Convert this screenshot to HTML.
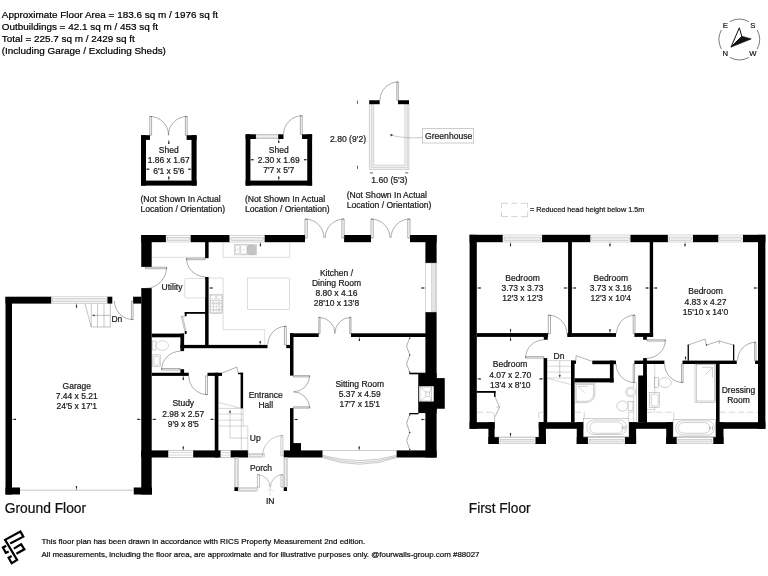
<!DOCTYPE html>
<html><head><meta charset="utf-8"><title>Floor plan</title>
<style>
html,body{margin:0;padding:0;background:#fff;}
body{width:768px;height:576px;overflow:hidden;font-family:"Liberation Sans",Arial,sans-serif;}
svg{display:block;will-change:transform;font-family:"Liberation Sans",Arial,sans-serif;}
</style></head><body>
<svg width="768" height="576" viewBox="0 0 768 576">
<rect width="768" height="576" fill="#fff"/>
<text x="1.80" y="17.80" font-size="9.92" text-anchor="start" fill="#000" stroke="#000" stroke-width="0.22">Approximate Floor Area = 183.6 sq m / 1976 sq ft</text>
<text x="1.80" y="29.70" font-size="9.92" text-anchor="start" fill="#000" stroke="#000" stroke-width="0.22">Outbuildings = 42.1 sq m / 453 sq ft</text>
<text x="1.80" y="41.60" font-size="9.92" text-anchor="start" fill="#000" stroke="#000" stroke-width="0.22">Total = 225.7 sq m / 2429 sq ft</text>
<text x="1.80" y="53.60" font-size="9.92" text-anchor="start" fill="#000" stroke="#000" stroke-width="0.22">(Including Garage / Excluding Sheds)</text>
<path d="M729.77 21.58 A20.3 20.3 0 0 1 748.83 21.58" stroke="#222" stroke-width="0.6" fill="none"/>
<path d="M757.22 29.97 A20.3 20.3 0 0 1 757.22 49.03" stroke="#222" stroke-width="0.6" fill="none"/>
<path d="M748.83 57.42 A20.3 20.3 0 0 1 729.77 57.42" stroke="#222" stroke-width="0.6" fill="none"/>
<path d="M721.38 49.03 A20.3 20.3 0 0 1 721.38 29.97" stroke="#222" stroke-width="0.6" fill="none"/>
<text x="725.40" y="28.30" font-size="7.7" text-anchor="middle" fill="#1a1a1a" stroke="#1a1a1a" stroke-width="0.22">E</text>
<text x="752.90" y="28.30" font-size="7.7" text-anchor="middle" fill="#1a1a1a" stroke="#1a1a1a" stroke-width="0.22">S</text>
<text x="725.40" y="55.80" font-size="7.7" text-anchor="middle" fill="#1a1a1a" stroke="#1a1a1a" stroke-width="0.22">N</text>
<text x="752.90" y="55.80" font-size="7.7" text-anchor="middle" fill="#1a1a1a" stroke="#1a1a1a" stroke-width="0.22">W</text>
<path d="M731.00 47.10 L739.30 27.80 L741.80 36.30 Z" stroke="#111" stroke-width="1.0" fill="#fff"/>
<path d="M731.00 47.10 L741.80 36.30 L751.20 38.90 Z" stroke="#111" stroke-width="0.7" fill="#111"/>
<rect x="141.00" y="135.20" width="5.00" height="50.40" fill="#000"/>
<rect x="191.50" y="135.20" width="5.10" height="50.40" fill="#000"/>
<rect x="141.00" y="180.60" width="55.60" height="5.00" fill="#000"/>
<rect x="141.00" y="135.20" width="9.00" height="4.70" fill="#000"/>
<rect x="186.60" y="135.20" width="10.00" height="4.70" fill="#000"/>
<path d="M149.80 135.20 L149.80 116.45 L151.60 116.45 L151.60 135.20 Z" stroke="#333" stroke-width="0.4" fill="#fff"/>
<path d="M149.80 116.45 A18.75 18.75 0 0 1 168.55 135.20" stroke="#333" stroke-width="0.4" fill="none"/>
<path d="M187.20 135.20 L187.20 116.45 L185.40 116.45 L185.40 135.20 Z" stroke="#333" stroke-width="0.4" fill="#fff"/>
<path d="M187.20 116.45 A18.75 18.75 0 0 0 168.45 135.20" stroke="#333" stroke-width="0.4" fill="none"/>
<text x="168.75" y="152.80" font-size="8.5" text-anchor="middle" fill="#1a1a1a" stroke="#1a1a1a" stroke-width="0.22">Shed</text>
<text x="168.75" y="163.40" font-size="8.5" text-anchor="middle" fill="#1a1a1a" stroke="#1a1a1a" stroke-width="0.22">1.86 x 1.67</text>
<text x="168.75" y="173.60" font-size="8.5" text-anchor="middle" fill="#1a1a1a" stroke="#1a1a1a" stroke-width="0.22">6'1 x 5'6</text>
<text x="140.50" y="202.20" font-size="8.6" text-anchor="start" fill="#1a1a1a" stroke="#1a1a1a" stroke-width="0.22">(Not Shown In Actual</text>
<text x="140.50" y="212.30" font-size="8.6" text-anchor="start" fill="#1a1a1a" stroke="#1a1a1a" stroke-width="0.22">Location / Orientation)</text>
<line x1="168.75" y1="139.90" x2="168.75" y2="143.90" stroke="#222" stroke-width="0.45"/>
<line x1="168.75" y1="141.60" x2="168.75" y2="143.90" stroke="#222" stroke-width="1.15"/>
<line x1="168.75" y1="180.60" x2="168.75" y2="176.60" stroke="#222" stroke-width="0.45"/>
<line x1="168.75" y1="178.90" x2="168.75" y2="176.60" stroke="#222" stroke-width="1.15"/>
<line x1="146.00" y1="169.20" x2="149.20" y2="169.20" stroke="#222" stroke-width="0.45"/>
<line x1="146.90" y1="169.20" x2="149.20" y2="169.20" stroke="#222" stroke-width="1.15"/>
<line x1="191.50" y1="169.20" x2="188.30" y2="169.20" stroke="#222" stroke-width="0.45"/>
<line x1="190.60" y1="169.20" x2="188.30" y2="169.20" stroke="#222" stroke-width="1.15"/>
<rect x="245.60" y="134.30" width="4.80" height="51.30" fill="#000"/>
<rect x="307.25" y="134.30" width="4.85" height="51.30" fill="#000"/>
<rect x="245.60" y="180.60" width="66.50" height="5.00" fill="#000"/>
<rect x="245.60" y="134.30" width="10.40" height="4.70" fill="#000"/>
<rect x="256.00" y="134.50" width="22.25" height="4.30" stroke="#777" stroke-width="0.4" fill="#fff" rx="0"/>
<line x1="256.80" y1="135.76" x2="277.45" y2="135.76" stroke="#777" stroke-width="0.3"/>
<line x1="256.80" y1="137.40" x2="277.45" y2="137.40" stroke="#777" stroke-width="0.3"/>
<rect x="278.25" y="134.30" width="5.25" height="4.70" fill="#000"/>
<rect x="302.00" y="134.30" width="10.10" height="4.70" fill="#000"/>
<path d="M302.20 134.30 L302.20 115.70 L300.40 115.70 L300.40 134.30 Z" stroke="#333" stroke-width="0.4" fill="#fff"/>
<path d="M302.20 115.70 A18.60 18.60 0 0 0 283.60 134.30" stroke="#333" stroke-width="0.4" fill="none"/>
<text x="278.75" y="152.60" font-size="8.5" text-anchor="middle" fill="#1a1a1a" stroke="#1a1a1a" stroke-width="0.22">Shed</text>
<text x="278.75" y="163.10" font-size="8.5" text-anchor="middle" fill="#1a1a1a" stroke="#1a1a1a" stroke-width="0.22">2.30 x 1.69</text>
<text x="278.75" y="173.30" font-size="8.5" text-anchor="middle" fill="#1a1a1a" stroke="#1a1a1a" stroke-width="0.22">7'7 x 5'7</text>
<text x="245.00" y="202.20" font-size="8.6" text-anchor="start" fill="#1a1a1a" stroke="#1a1a1a" stroke-width="0.22">(Not Shown In Actual</text>
<text x="245.00" y="212.30" font-size="8.6" text-anchor="start" fill="#1a1a1a" stroke="#1a1a1a" stroke-width="0.22">Location / Orientation)</text>
<line x1="278.75" y1="139.00" x2="278.75" y2="143.00" stroke="#222" stroke-width="0.45"/>
<line x1="278.75" y1="140.70" x2="278.75" y2="143.00" stroke="#222" stroke-width="1.15"/>
<line x1="278.75" y1="180.60" x2="278.75" y2="176.60" stroke="#222" stroke-width="0.45"/>
<line x1="278.75" y1="178.90" x2="278.75" y2="176.60" stroke="#222" stroke-width="1.15"/>
<line x1="250.40" y1="159.70" x2="253.60" y2="159.70" stroke="#222" stroke-width="0.45"/>
<line x1="251.30" y1="159.70" x2="253.60" y2="159.70" stroke="#222" stroke-width="1.15"/>
<line x1="307.25" y1="159.70" x2="304.05" y2="159.70" stroke="#222" stroke-width="0.45"/>
<line x1="306.35" y1="159.70" x2="304.05" y2="159.70" stroke="#222" stroke-width="1.15"/>
<path d="M369.4 104 V169.5 H409 V104 H404.9 V165.2 H373.7 V104 Z" fill="#f2f2f2" stroke="none"/>
<path d="M369.40 104.00 L369.40 169.50 L409.00 169.50 L409.00 104.00" stroke="#999" stroke-width="0.4" fill="none"/>
<path d="M371.70 104.00 L371.70 167.60 L407.30 167.60 L407.30 104.00" stroke="#aaa" stroke-width="0.4" fill="none"/>
<path d="M373.70 104.00 L373.70 165.20 L404.90 165.20 L404.90 104.00" stroke="#999" stroke-width="0.4" fill="none"/>
<rect x="369.20" y="100.25" width="10.50" height="3.95" fill="#000"/>
<rect x="398.00" y="100.25" width="11.00" height="3.95" fill="#000"/>
<path d="M398.30 100.25 L398.30 81.95 L396.80 81.95 L396.80 100.25 Z" stroke="#333" stroke-width="0.4" fill="#fff"/>
<path d="M398.30 81.95 A18.30 18.30 0 0 0 380.00 100.25" stroke="#333" stroke-width="0.4" fill="none"/>
<text x="330.00" y="142.00" font-size="8.6" text-anchor="start" fill="#1a1a1a" stroke="#1a1a1a" stroke-width="0.22">2.80 (9'2)</text>
<text x="371.30" y="182.60" font-size="8.6" text-anchor="start" fill="#1a1a1a" stroke="#1a1a1a" stroke-width="0.22">1.60 (5'3)</text>
<text x="346.75" y="198.00" font-size="8.6" text-anchor="start" fill="#1a1a1a" stroke="#1a1a1a" stroke-width="0.22">(Not Shown In Actual</text>
<text x="346.75" y="208.10" font-size="8.6" text-anchor="start" fill="#1a1a1a" stroke="#1a1a1a" stroke-width="0.22">Location / Orientation)</text>
<rect x="422.50" y="128.75" width="51.25" height="14.25" stroke="#999" stroke-width="0.5" fill="#fff" rx="0"/>
<text x="425.00" y="138.90" font-size="8.6" text-anchor="start" fill="#1a1a1a" stroke="#1a1a1a" stroke-width="0.22">Greenhouse</text>
<path d="M422.5 137.5 Q405 139 390.5 135" stroke="#777" stroke-width="0.4" fill="none"/>
<path d="M390.00 134.80 L392.30 134.40 L392.00 136.20 Z" stroke="#222" stroke-width="0.3" fill="#222"/>
<line x1="357.50" y1="100.70" x2="357.50" y2="103.90" stroke="#222" stroke-width="0.7"/>
<line x1="357.50" y1="165.70" x2="357.50" y2="168.90" stroke="#222" stroke-width="0.7"/>
<line x1="369.90" y1="172.90" x2="373.10" y2="172.90" stroke="#222" stroke-width="0.7"/>
<line x1="405.10" y1="172.90" x2="408.30" y2="172.90" stroke="#222" stroke-width="0.7"/>
<path d="M501.5 203.3 h6.6 m3.2 0 h6.3 m3.4 0 h6.6 M501.5 216.6 h6.6 m3.2 0 h6.3 m3.4 0 h6.6 M501.5 203.3 v4.5 m0 3.5 v5.3 M527.6 203.3 v4.5 m0 3.5 v5.3" fill="none" stroke="#aaa" stroke-width="0.5"/>
<text x="530.00" y="211.80" font-size="7.25" text-anchor="start" fill="#1a1a1a" stroke="#1a1a1a" stroke-width="0.22">= Reduced head height below 1.5m</text>
<rect x="5.50" y="297.00" width="6.50" height="197.50" fill="#000"/>
<rect x="5.50" y="296.70" width="45.75" height="6.90" fill="#000"/>
<rect x="51.25" y="296.90" width="56.25" height="6.50" stroke="#999" stroke-width="0.4" fill="#fff" rx="0"/>
<rect x="52.45" y="298.77" width="53.85" height="3.17" stroke="#999" stroke-width="0.35" fill="#ececec" rx="0"/>
<rect x="107.50" y="296.70" width="4.80" height="6.90" fill="#000"/>
<rect x="133.10" y="296.70" width="8.15" height="6.90" fill="#000"/>
<rect x="5.50" y="487.50" width="14.50" height="7.00" fill="#000"/>
<rect x="133.75" y="487.50" width="18.25" height="7.00" fill="#000"/>
<line x1="20.00" y1="490.20" x2="133.75" y2="490.20" stroke="#888" stroke-width="0.5"/>
<path d="M133.10 301.00 L133.10 319.60 L131.40 319.60 L131.40 301.00 Z" stroke="#333" stroke-width="0.4" fill="#fff"/>
<path d="M133.10 319.60 A18.60 18.60 0 0 1 114.50 301.00" stroke="#333" stroke-width="0.4" fill="none"/>
<path d="M85.00 303.60 L91.25 327.00 L110.25 327.00 L110.25 303.60" stroke="#666" stroke-width="0.4" fill="none"/>
<line x1="91.25" y1="303.60" x2="91.25" y2="327.00" stroke="#777" stroke-width="0.4"/>
<line x1="97.50" y1="303.60" x2="97.50" y2="327.00" stroke="#777" stroke-width="0.4"/>
<line x1="104.00" y1="303.60" x2="104.00" y2="327.00" stroke="#777" stroke-width="0.4"/>
<line x1="92.50" y1="315.40" x2="110.25" y2="315.40" stroke="#666" stroke-width="0.4"/>
<path d="M94.50 314.70 L92.30 315.40 L94.50 316.10 Z" stroke="#333" stroke-width="0.3" fill="#333"/>
<text x="116.90" y="322.00" font-size="8.5" text-anchor="middle" fill="#1a1a1a" stroke="#1a1a1a" stroke-width="0.22">Dn</text>
<text x="76.75" y="388.90" font-size="8.5" text-anchor="middle" fill="#1a1a1a" stroke="#1a1a1a" stroke-width="0.22">Garage</text>
<text x="76.75" y="399.20" font-size="8.5" text-anchor="middle" fill="#1a1a1a" stroke="#1a1a1a" stroke-width="0.22">7.44 x 5.21</text>
<text x="76.75" y="409.40" font-size="8.5" text-anchor="middle" fill="#1a1a1a" stroke="#1a1a1a" stroke-width="0.22">24'5 x 17'1</text>
<line x1="12.00" y1="419.40" x2="16.00" y2="419.40" stroke="#222" stroke-width="0.45"/>
<line x1="13.70" y1="419.40" x2="16.00" y2="419.40" stroke="#222" stroke-width="1.15"/>
<line x1="141.25" y1="419.40" x2="137.25" y2="419.40" stroke="#222" stroke-width="0.45"/>
<line x1="139.55" y1="419.40" x2="137.25" y2="419.40" stroke="#222" stroke-width="1.15"/>
<line x1="76.50" y1="303.60" x2="76.50" y2="307.60" stroke="#222" stroke-width="0.45"/>
<line x1="76.50" y1="305.30" x2="76.50" y2="307.60" stroke="#222" stroke-width="1.15"/>
<line x1="76.50" y1="490.00" x2="76.50" y2="486.00" stroke="#222" stroke-width="0.45"/>
<line x1="76.50" y1="488.30" x2="76.50" y2="486.00" stroke="#222" stroke-width="1.15"/>
<rect x="141.25" y="235.00" width="10.45" height="31.90" fill="#000"/>
<rect x="141.25" y="288.10" width="10.45" height="206.40" fill="#000"/>
<rect x="141.25" y="235.00" width="24.75" height="7.20" fill="#000"/>
<rect x="166.00" y="235.20" width="24.75" height="6.80" stroke="#999" stroke-width="0.4" fill="#fff" rx="0"/>
<rect x="167.20" y="237.16" width="22.35" height="3.31" stroke="#999" stroke-width="0.35" fill="#ececec" rx="0"/>
<rect x="190.75" y="235.00" width="39.00" height="7.20" fill="#000"/>
<rect x="229.75" y="235.20" width="35.00" height="6.80" stroke="#999" stroke-width="0.4" fill="#fff" rx="0"/>
<rect x="230.95" y="237.16" width="32.60" height="3.31" stroke="#999" stroke-width="0.35" fill="#ececec" rx="0"/>
<rect x="264.75" y="235.00" width="40.25" height="7.20" fill="#000"/>
<rect x="344.10" y="235.00" width="26.90" height="7.20" fill="#000"/>
<rect x="410.00" y="235.00" width="26.60" height="7.20" fill="#000"/>
<rect x="425.40" y="235.00" width="11.20" height="28.00" fill="#000"/>
<rect x="425.60" y="263.00" width="10.80" height="49.20" stroke="#999" stroke-width="0.4" fill="#fff" rx="0"/>
<rect x="431.50" y="263.60" width="4.40" height="48.00" stroke="#aaa" stroke-width="0.35" fill="#e4e4e4" rx="0"/>
<rect x="425.40" y="312.20" width="11.20" height="145.30" fill="#000"/>
<rect x="418.25" y="373.10" width="18.35" height="40.00" fill="#000"/>
<rect x="430.00" y="378.10" width="14.75" height="30.65" fill="#000"/>
<rect x="419.10" y="386.25" width="14.65" height="15.25" stroke="#fff" stroke-width="0" fill="#fff" rx="0"/>
<rect x="420.00" y="387.00" width="11.80" height="14.00" stroke="#888" stroke-width="0.4" fill="#fff" rx="0"/>
<rect x="426.00" y="392.00" width="3.80" height="4.40" stroke="#888" stroke-width="0.4" fill="#fff" rx="0"/>
<line x1="420.00" y1="387.00" x2="426.00" y2="392.00" stroke="#888" stroke-width="0.4"/>
<line x1="420.00" y1="401.00" x2="426.00" y2="396.40" stroke="#888" stroke-width="0.4"/>
<line x1="431.80" y1="387.00" x2="429.80" y2="392.00" stroke="#888" stroke-width="0.4"/>
<line x1="431.80" y1="401.00" x2="429.80" y2="396.40" stroke="#888" stroke-width="0.4"/>
<rect x="141.25" y="450.40" width="27.00" height="7.10" fill="#000"/>
<rect x="168.25" y="450.60" width="25.00" height="6.70" stroke="#777" stroke-width="0.4" fill="#fff" rx="0"/>
<line x1="169.05" y1="452.60" x2="192.45" y2="452.60" stroke="#777" stroke-width="0.3"/>
<line x1="169.05" y1="455.09" x2="192.45" y2="455.09" stroke="#777" stroke-width="0.3"/>
<rect x="193.25" y="450.40" width="27.50" height="7.10" fill="#000"/>
<rect x="220.75" y="450.60" width="10.00" height="6.70" stroke="#777" stroke-width="0.4" fill="#fff" rx="0"/>
<line x1="221.55" y1="452.60" x2="229.95" y2="452.60" stroke="#777" stroke-width="0.3"/>
<line x1="221.55" y1="455.09" x2="229.95" y2="455.09" stroke="#777" stroke-width="0.3"/>
<rect x="230.75" y="450.30" width="17.35" height="7.20" fill="#000"/>
<rect x="248.10" y="453.20" width="16.10" height="3.90" stroke="#999" stroke-width="0.4" fill="#fff" rx="0"/>
<rect x="249.30" y="454.29" width="13.70" height="1.98" stroke="#999" stroke-width="0.35" fill="#ececec" rx="0"/>
<rect x="283.75" y="450.40" width="38.75" height="7.10" fill="#000"/>
<rect x="290.00" y="443.10" width="11.00" height="7.90" fill="#000"/>
<rect x="396.60" y="450.40" width="40.00" height="7.10" fill="#000"/>
<line x1="322.50" y1="450.50" x2="396.60" y2="450.50" stroke="#888" stroke-width="0.4"/>
<path d="M322.3 455.30 Q359.55 465.90 396.8 455.30" stroke="#777" stroke-width="0.4" fill="none"/>
<path d="M322.3 456.40 Q359.55 468.60 396.8 456.40" stroke="#777" stroke-width="0.4" fill="none"/>
<path d="M322.3 457.50 Q359.55 470.90 396.8 457.50" stroke="#777" stroke-width="0.4" fill="none"/>
<path d="M305.00 238.00 L305.00 219.00 L307.20 219.00 L307.20 238.00 Z" stroke="#333" stroke-width="0.4" fill="#fff"/>
<path d="M305.00 219.00 A19.00 19.00 0 0 1 324.00 238.00" stroke="#333" stroke-width="0.4" fill="none"/>
<path d="M344.10 238.00 L344.10 219.00 L341.90 219.00 L341.90 238.00 Z" stroke="#333" stroke-width="0.4" fill="#fff"/>
<path d="M344.10 219.00 A19.00 19.00 0 0 0 325.10 238.00" stroke="#333" stroke-width="0.4" fill="none"/>
<path d="M371.00 238.00 L371.00 219.00 L373.20 219.00 L373.20 238.00 Z" stroke="#333" stroke-width="0.4" fill="#fff"/>
<path d="M371.00 219.00 A19.00 19.00 0 0 1 390.00 238.00" stroke="#333" stroke-width="0.4" fill="none"/>
<path d="M410.00 238.00 L410.00 219.00 L407.80 219.00 L407.80 238.00 Z" stroke="#333" stroke-width="0.4" fill="#fff"/>
<path d="M410.00 219.00 A19.00 19.00 0 0 0 391.00 238.00" stroke="#333" stroke-width="0.4" fill="none"/>
<path d="M145.40 267.20 L166.60 267.20 L166.60 268.70 L145.40 268.70 Z" stroke="#333" stroke-width="0.4" fill="#fff"/>
<path d="M166.60 267.20 A21.20 21.20 0 0 1 145.40 288.40" stroke="#333" stroke-width="0.4" fill="none"/>
<rect x="205.10" y="242.00" width="3.50" height="16.20" fill="#000"/>
<rect x="205.10" y="277.00" width="3.50" height="68.50" fill="#000"/>
<path d="M205.10 258.20 L186.50 258.20 L186.50 259.70 L205.10 259.70 Z" stroke="#333" stroke-width="0.4" fill="#fff"/>
<path d="M186.50 258.20 A18.60 18.60 0 0 0 205.10 276.80" stroke="#333" stroke-width="0.4" fill="none"/>
<line x1="151.70" y1="257.30" x2="205.30" y2="257.30" stroke="#aaa" stroke-width="0.4"/>
<rect x="184.75" y="278.50" width="20.55" height="19.40" stroke="#aaa" stroke-width="0.4" fill="none" rx="1"/>
<rect x="184.75" y="312.00" width="20.65" height="1.80" fill="#000"/>
<rect x="184.75" y="312.00" width="1.85" height="4.20" fill="#000"/>
<rect x="184.75" y="331.00" width="1.85" height="3.00" fill="#000"/>
<path d="M185.20 316.20 L181.20 316.60 L184.90 331.30" stroke="#444" stroke-width="0.35" fill="none"/>
<path d="M182.60 316.40 L186.00 331.00" stroke="#444" stroke-width="0.35" fill="none"/>
<rect x="151.70" y="333.60" width="32.40" height="3.70" fill="#000"/>
<rect x="180.40" y="333.60" width="3.70" height="17.50" fill="#000"/>
<rect x="180.40" y="344.90" width="87.10" height="3.30" fill="#000"/>
<rect x="286.25" y="344.90" width="4.35" height="3.30" fill="#000"/>
<path d="M286.25 344.60 L286.25 326.20 L284.45 326.20 L284.45 344.60 Z" stroke="#333" stroke-width="0.4" fill="#fff"/>
<path d="M286.25 326.20 A18.40 18.40 0 0 0 267.85 344.60" stroke="#333" stroke-width="0.4" fill="none"/>
<path d="M223.10 242.00 L223.10 257.40 L289.75 257.40 L289.75 242.00" stroke="#aaa" stroke-width="0.4" fill="none"/>
<rect x="234.40" y="244.25" width="21.85" height="10.65" stroke="#999" stroke-width="0.4" fill="none" rx="0"/>
<rect x="235.60" y="245.50" width="4.15" height="8.10" stroke="#999" stroke-width="0.4" fill="none" rx="0.8"/>
<rect x="240.60" y="244.90" width="6.30" height="9.35" stroke="#999" stroke-width="0.4" fill="none" rx="0.8"/>
<rect x="247.50" y="245.25" width="8.10" height="9.25" stroke="#999" stroke-width="0.4" fill="#c4c4c4" rx="1.2"/>
<circle cx="237.6" cy="249.8" r="0.45" fill="#666"/><circle cx="243.8" cy="249.8" r="0.45" fill="#666"/>
<path d="M208.60 278.00 L223.10 278.00 L223.10 329.60 L264.75 329.60 L264.75 344.90" stroke="#aaa" stroke-width="0.4" fill="none"/>
<rect x="210.00" y="294.60" width="12.50" height="18.80" stroke="#999" stroke-width="0.4" fill="none" rx="0"/>
<rect x="210.70" y="295.30" width="11.10" height="3.70" stroke="#aaa" stroke-width="0.35" fill="none" rx="0"/>
<line x1="215.00" y1="296.00" x2="217.50" y2="298.30" stroke="#888" stroke-width="0.35"/>
<line x1="217.50" y1="296.00" x2="215.00" y2="298.30" stroke="#888" stroke-width="0.35"/>
<rect x="210.70" y="300.30" width="11.10" height="12.60" stroke="#999" stroke-width="0.35" fill="none" rx="0"/>
<line x1="213.50" y1="300.30" x2="213.50" y2="312.90" stroke="#aaa" stroke-width="0.35"/>
<line x1="216.25" y1="300.30" x2="216.25" y2="312.90" stroke="#aaa" stroke-width="0.35"/>
<line x1="219.00" y1="300.30" x2="219.00" y2="312.90" stroke="#aaa" stroke-width="0.35"/>
<line x1="210.70" y1="303.40" x2="221.80" y2="303.40" stroke="#aaa" stroke-width="0.35"/>
<line x1="210.70" y1="306.60" x2="221.80" y2="306.60" stroke="#aaa" stroke-width="0.35"/>
<line x1="210.70" y1="309.80" x2="221.80" y2="309.80" stroke="#aaa" stroke-width="0.35"/>
<circle cx="213.5" cy="303.4" r="1.0" fill="#fff" stroke="#777" stroke-width="0.35"/>
<circle cx="219" cy="303.4" r="1.0" fill="#fff" stroke="#777" stroke-width="0.35"/>
<circle cx="213.5" cy="309.8" r="1.0" fill="#fff" stroke="#777" stroke-width="0.35"/>
<circle cx="219" cy="309.8" r="1.0" fill="#fff" stroke="#777" stroke-width="0.35"/>
<rect x="247.50" y="278.00" width="42.25" height="31.60" stroke="#aaa" stroke-width="0.4" fill="none" rx="0"/>
<rect x="290.00" y="333.30" width="28.75" height="3.70" fill="#000"/>
<rect x="351.00" y="333.30" width="75.25" height="3.70" fill="#000"/>
<rect x="290.00" y="333.30" width="3.50" height="42.30" fill="#000"/>
<rect x="290.00" y="408.10" width="3.50" height="42.90" fill="#000"/>
<path d="M318.75 333.50 L318.75 317.30 L320.05 317.30 L320.05 333.50 Z" stroke="#333" stroke-width="0.4" fill="#fff"/>
<path d="M318.75 317.30 A16.20 16.20 0 0 1 334.95 333.50" stroke="#333" stroke-width="0.4" fill="none"/>
<path d="M351.00 333.50 L351.00 317.30 L349.70 317.30 L349.70 333.50 Z" stroke="#333" stroke-width="0.4" fill="#fff"/>
<path d="M351.00 317.30 A16.20 16.20 0 0 0 334.80 333.50" stroke="#333" stroke-width="0.4" fill="none"/>
<path d="M293.50 375.60 L309.70 375.60 L309.70 376.90 L293.50 376.90 Z" stroke="#333" stroke-width="0.4" fill="#fff"/>
<path d="M309.70 375.60 A16.20 16.20 0 0 1 293.50 391.80" stroke="#333" stroke-width="0.4" fill="none"/>
<path d="M293.50 408.10 L309.70 408.10 L309.70 406.80 L293.50 406.80 Z" stroke="#333" stroke-width="0.4" fill="#fff"/>
<path d="M309.70 408.10 A16.20 16.20 0 0 0 293.50 391.90" stroke="#333" stroke-width="0.4" fill="none"/>
<path d="M409.75 337.50 L406.60 346.25 L409.75 355.00 L406.60 363.75 L409.75 372.50" stroke="#333" stroke-width="0.4" fill="none"/>
<rect x="409.30" y="372.70" width="16.20" height="1.60" fill="#000"/>
<rect x="409.30" y="413.00" width="9.20" height="1.30" fill="#000"/>
<path d="M409.75 414.40 L406.60 423.10 L409.75 432.50 L406.60 440.60 L409.75 449.40" stroke="#333" stroke-width="0.4" fill="none"/>
<circle cx="409.75" cy="338.3" r="0.7" fill="#222"/>
<circle cx="409.75" cy="355" r="0.7" fill="#222"/>
<circle cx="409.75" cy="372" r="0.7" fill="#222"/>
<circle cx="409.75" cy="415" r="0.7" fill="#222"/>
<circle cx="409.75" cy="432.5" r="0.7" fill="#222"/>
<circle cx="409.75" cy="449.4" r="0.7" fill="#222"/>
<rect x="151.70" y="372.75" width="37.05" height="3.15" fill="#000"/>
<rect x="180.40" y="369.20" width="3.70" height="4.00" fill="#000"/>
<rect x="207.50" y="372.75" width="14.50" height="3.15" fill="#000"/>
<rect x="214.75" y="372.75" width="3.65" height="84.75" fill="#000"/>
<path d="M207.50 375.90 L207.50 394.65 L205.60 394.65 L205.60 375.90 Z" stroke="#333" stroke-width="0.4" fill="#fff"/>
<path d="M207.50 394.65 A18.75 18.75 0 0 1 188.75 375.90" stroke="#333" stroke-width="0.4" fill="none"/>
<path d="M180.40 370.00 L161.60 370.00 L161.60 368.50 L180.40 368.50 Z" stroke="#333" stroke-width="0.4" fill="#fff"/>
<path d="M161.60 370.00 A18.80 18.80 0 0 1 180.40 351.20" stroke="#333" stroke-width="0.4" fill="none"/>
<rect x="152.20" y="341.00" width="3.80" height="9.00" stroke="#888" stroke-width="0.35" fill="none" rx="0"/>
<ellipse cx="162.3" cy="345.5" rx="6.2" ry="4.7" fill="#fff" stroke="#888" stroke-width="0.35"/>
<rect x="152.60" y="354.90" width="7.80" height="11.85" stroke="#888" stroke-width="0.35" fill="none" rx="0"/>
<rect x="154.00" y="356.30" width="5.30" height="9.00" stroke="#888" stroke-width="0.35" fill="none" rx="1.5"/>
<rect x="240.60" y="372.75" width="2.50" height="35.65" fill="#000"/>
<rect x="238.00" y="372.75" width="5.10" height="1.45" fill="#000"/>
<path d="M222.00 373.00 L236.90 367.10 L238.10 373.00" stroke="#333" stroke-width="0.4" fill="none"/>
<line x1="218.50" y1="402.50" x2="241.25" y2="408.40" stroke="#999" stroke-width="0.4"/>
<line x1="218.50" y1="408.40" x2="243.10" y2="408.40" stroke="#999" stroke-width="0.4"/>
<line x1="218.50" y1="414.00" x2="243.10" y2="414.00" stroke="#999" stroke-width="0.4"/>
<line x1="218.50" y1="420.20" x2="243.10" y2="420.20" stroke="#999" stroke-width="0.4"/>
<line x1="218.50" y1="426.10" x2="243.10" y2="426.10" stroke="#999" stroke-width="0.4"/>
<line x1="243.10" y1="408.40" x2="243.10" y2="426.10" stroke="#999" stroke-width="0.4"/>
<path d="M243.10 426.10 L247.80 426.10 L247.80 453.00" stroke="#999" stroke-width="0.4" fill="none"/>
<line x1="241.25" y1="408.40" x2="241.25" y2="450.50" stroke="#999" stroke-width="0.4"/>
<path d="M230.00 411.00 L230.00 438.10 L247.80 438.10" stroke="#888" stroke-width="0.4" fill="none"/>
<path d="M229.30 412.60 L230.00 410.20 L230.70 412.60 Z" stroke="#333" stroke-width="0.3" fill="#333"/>
<text x="255.30" y="440.70" font-size="8.5" text-anchor="middle" fill="#1a1a1a" stroke="#1a1a1a" stroke-width="0.22">Up</text>
<path d="M282.90 455.80 L282.90 435.50 L280.90 435.50 L280.90 455.80 Z" stroke="#777" stroke-width="0.4" fill="#fff"/>
<path d="M282.90 435.50 A20.30 20.30 0 0 0 262.60 455.80" stroke="#777" stroke-width="0.4" fill="none"/>
<rect x="234.60" y="457.50" width="3.95" height="30.00" stroke="#999" stroke-width="0.4" fill="#fff" rx="0"/>
<rect x="235.57" y="458.70" width="2.00" height="27.60" stroke="#999" stroke-width="0.35" fill="#ececec" rx="0"/>
<rect x="283.95" y="457.50" width="3.35" height="30.00" stroke="#999" stroke-width="0.4" fill="#fff" rx="0"/>
<rect x="284.76" y="458.70" width="1.73" height="27.60" stroke="#999" stroke-width="0.35" fill="#ececec" rx="0"/>
<rect x="238.00" y="487.70" width="19.50" height="3.60" stroke="#999" stroke-width="0.4" fill="#fff" rx="0"/>
<rect x="239.20" y="488.70" width="17.10" height="1.84" stroke="#999" stroke-width="0.35" fill="#ececec" rx="0"/>
<rect x="234.40" y="487.25" width="3.70" height="3.75" fill="#000"/>
<rect x="283.75" y="487.25" width="3.25" height="3.75" fill="#000"/>
<path d="M257.40 487.20 L257.40 474.60 L259.50 474.60 L259.50 487.20 Z" stroke="#666" stroke-width="0.4" fill="#fff"/>
<path d="M257.40 474.60 A12.60 12.60 0 0 1 270.00 487.20" stroke="#666" stroke-width="0.4" fill="none"/>
<path d="M283.00 487.20 L283.00 474.60 L281.00 474.60 L281.00 487.20 Z" stroke="#666" stroke-width="0.4" fill="#fff"/>
<path d="M283.00 474.60 A12.60 12.60 0 0 0 270.40 487.20" stroke="#666" stroke-width="0.4" fill="none"/>
<text x="261.00" y="470.50" font-size="8.5" text-anchor="middle" fill="#1a1a1a" stroke="#1a1a1a" stroke-width="0.22">Porch</text>
<text x="270.15" y="503.70" font-size="8.5" text-anchor="middle" fill="#1a1a1a" stroke="#1a1a1a" stroke-width="0.22">IN</text>
<path d="M270.10 495.80 L270.10 488.60" stroke="#c8c8c8" stroke-width="0.6" fill="none"/>
<path d="M267.00 491.50 L270.10 488.40 L273.20 491.50" stroke="#c8c8c8" stroke-width="0.6" fill="none"/>
<text x="183.25" y="405.80" font-size="8.5" text-anchor="middle" fill="#1a1a1a" stroke="#1a1a1a" stroke-width="0.22">Study</text>
<text x="183.25" y="416.50" font-size="8.5" text-anchor="middle" fill="#1a1a1a" stroke="#1a1a1a" stroke-width="0.22">2.98 x 2.57</text>
<text x="183.25" y="426.70" font-size="8.5" text-anchor="middle" fill="#1a1a1a" stroke="#1a1a1a" stroke-width="0.22">9'9 x 8'5</text>
<text x="265.70" y="397.50" font-size="8.5" text-anchor="middle" fill="#1a1a1a" stroke="#1a1a1a" stroke-width="0.22">Entrance</text>
<text x="265.80" y="407.75" font-size="8.5" text-anchor="middle" fill="#1a1a1a" stroke="#1a1a1a" stroke-width="0.22">Hall</text>
<text x="359.80" y="386.60" font-size="8.5" text-anchor="middle" fill="#1a1a1a" stroke="#1a1a1a" stroke-width="0.22">Sitting Room</text>
<text x="359.80" y="397.00" font-size="8.5" text-anchor="middle" fill="#1a1a1a" stroke="#1a1a1a" stroke-width="0.22">5.37 x 4.59</text>
<text x="359.80" y="407.00" font-size="8.5" text-anchor="middle" fill="#1a1a1a" stroke="#1a1a1a" stroke-width="0.22">17'7 x 15'1</text>
<text x="336.50" y="276.00" font-size="8.5" text-anchor="middle" fill="#1a1a1a" stroke="#1a1a1a" stroke-width="0.22">Kitchen /</text>
<text x="336.50" y="285.90" font-size="8.5" text-anchor="middle" fill="#1a1a1a" stroke="#1a1a1a" stroke-width="0.22">Dining Room</text>
<text x="336.50" y="296.00" font-size="8.5" text-anchor="middle" fill="#1a1a1a" stroke="#1a1a1a" stroke-width="0.22">8.80 x 4.16</text>
<text x="336.50" y="306.20" font-size="8.5" text-anchor="middle" fill="#1a1a1a" stroke="#1a1a1a" stroke-width="0.22">28'10 x 13'8</text>
<text x="172.00" y="290.00" font-size="8.5" text-anchor="middle" fill="#1a1a1a" stroke="#1a1a1a" stroke-width="0.22">Utility</text>
<text x="4.80" y="512.60" font-size="13.8" text-anchor="start" fill="#111" stroke="#111" stroke-width="0.22">Ground Floor</text>
<line x1="260.40" y1="242.20" x2="260.40" y2="246.20" stroke="#222" stroke-width="0.45"/>
<line x1="260.40" y1="243.90" x2="260.40" y2="246.20" stroke="#222" stroke-width="1.15"/>
<line x1="260.20" y1="344.90" x2="260.20" y2="340.90" stroke="#222" stroke-width="0.45"/>
<line x1="260.20" y1="343.20" x2="260.20" y2="340.90" stroke="#222" stroke-width="1.15"/>
<line x1="425.40" y1="288.00" x2="421.40" y2="288.00" stroke="#222" stroke-width="0.45"/>
<line x1="423.70" y1="288.00" x2="421.40" y2="288.00" stroke="#222" stroke-width="1.15"/>
<line x1="208.60" y1="288.00" x2="212.60" y2="288.00" stroke="#222" stroke-width="0.45"/>
<line x1="210.30" y1="288.00" x2="212.60" y2="288.00" stroke="#222" stroke-width="1.15"/>
<line x1="359.40" y1="337.00" x2="359.40" y2="341.00" stroke="#222" stroke-width="0.45"/>
<line x1="359.40" y1="338.70" x2="359.40" y2="341.00" stroke="#222" stroke-width="1.15"/>
<line x1="359.20" y1="450.40" x2="359.20" y2="446.40" stroke="#222" stroke-width="0.45"/>
<line x1="359.20" y1="448.70" x2="359.20" y2="446.40" stroke="#222" stroke-width="1.15"/>
<line x1="293.50" y1="419.50" x2="297.50" y2="419.50" stroke="#222" stroke-width="0.45"/>
<line x1="295.20" y1="419.50" x2="297.50" y2="419.50" stroke="#222" stroke-width="1.15"/>
<line x1="425.40" y1="419.50" x2="421.40" y2="419.50" stroke="#222" stroke-width="0.45"/>
<line x1="423.70" y1="419.50" x2="421.40" y2="419.50" stroke="#222" stroke-width="1.15"/>
<line x1="183.30" y1="375.90" x2="183.30" y2="379.90" stroke="#222" stroke-width="0.45"/>
<line x1="183.30" y1="377.60" x2="183.30" y2="379.90" stroke="#222" stroke-width="1.15"/>
<line x1="183.30" y1="450.40" x2="183.30" y2="446.40" stroke="#222" stroke-width="0.45"/>
<line x1="183.30" y1="448.70" x2="183.30" y2="446.40" stroke="#222" stroke-width="1.15"/>
<line x1="151.70" y1="419.40" x2="155.70" y2="419.40" stroke="#222" stroke-width="0.45"/>
<line x1="153.40" y1="419.40" x2="155.70" y2="419.40" stroke="#222" stroke-width="1.15"/>
<line x1="214.75" y1="419.40" x2="210.75" y2="419.40" stroke="#222" stroke-width="0.45"/>
<line x1="213.05" y1="419.40" x2="210.75" y2="419.40" stroke="#222" stroke-width="1.15"/>
<rect x="469.60" y="234.80" width="7.20" height="194.00" fill="#000"/>
<rect x="758.00" y="234.80" width="7.40" height="194.00" fill="#000"/>
<rect x="469.60" y="234.80" width="33.30" height="7.40" fill="#000"/>
<rect x="502.90" y="235.00" width="39.20" height="7.00" stroke="#999" stroke-width="0.4" fill="#fff" rx="0"/>
<rect x="504.10" y="237.02" width="36.80" height="3.40" stroke="#999" stroke-width="0.35" fill="#ececec" rx="0"/>
<rect x="542.10" y="234.80" width="48.40" height="7.40" fill="#000"/>
<rect x="590.50" y="235.00" width="40.00" height="7.00" stroke="#999" stroke-width="0.4" fill="#fff" rx="0"/>
<rect x="591.70" y="237.02" width="37.60" height="3.40" stroke="#999" stroke-width="0.35" fill="#ececec" rx="0"/>
<rect x="630.50" y="234.80" width="37.50" height="7.40" fill="#000"/>
<rect x="668.00" y="235.00" width="25.00" height="7.00" stroke="#999" stroke-width="0.4" fill="#fff" rx="0"/>
<rect x="669.20" y="237.02" width="22.60" height="3.40" stroke="#999" stroke-width="0.35" fill="#ececec" rx="0"/>
<rect x="693.00" y="234.80" width="25.50" height="7.40" fill="#000"/>
<rect x="718.50" y="235.00" width="24.50" height="7.00" stroke="#999" stroke-width="0.4" fill="#fff" rx="0"/>
<rect x="719.70" y="237.02" width="22.10" height="3.40" stroke="#999" stroke-width="0.35" fill="#ececec" rx="0"/>
<rect x="743.00" y="234.80" width="22.40" height="7.40" fill="#000"/>
<rect x="469.60" y="422.20" width="25.00" height="6.60" fill="#000"/>
<rect x="538.75" y="422.20" width="44.85" height="6.60" fill="#000"/>
<rect x="628.90" y="422.20" width="44.20" height="6.60" fill="#000"/>
<rect x="715.60" y="422.20" width="49.80" height="6.60" fill="#000"/>
<rect x="488.40" y="422.20" width="6.20" height="21.80" fill="#000"/>
<rect x="538.75" y="422.20" width="7.15" height="21.80" fill="#000"/>
<rect x="488.40" y="437.00" width="10.60" height="7.00" fill="#000"/>
<rect x="535.25" y="437.00" width="10.65" height="7.00" fill="#000"/>
<line x1="494.60" y1="437.00" x2="538.75" y2="437.00" stroke="#999" stroke-width="0.4"/>
<rect x="499.00" y="437.80" width="36.25" height="5.40" stroke="#999" stroke-width="0.4" fill="#fff" rx="0"/>
<rect x="500.20" y="439.34" width="33.85" height="2.67" stroke="#999" stroke-width="0.35" fill="#ececec" rx="0"/>
<rect x="576.75" y="422.20" width="6.85" height="21.80" fill="#000"/>
<rect x="628.90" y="422.20" width="7.20" height="21.80" fill="#000"/>
<rect x="576.75" y="437.00" width="11.25" height="7.00" fill="#000"/>
<rect x="624.90" y="437.00" width="11.20" height="7.00" fill="#000"/>
<line x1="583.60" y1="437.00" x2="628.90" y2="437.00" stroke="#999" stroke-width="0.4"/>
<rect x="588.00" y="437.80" width="36.90" height="5.40" stroke="#999" stroke-width="0.4" fill="#fff" rx="0"/>
<rect x="589.20" y="439.34" width="34.50" height="2.67" stroke="#999" stroke-width="0.35" fill="#ececec" rx="0"/>
<rect x="666.25" y="422.20" width="6.85" height="21.80" fill="#000"/>
<rect x="715.60" y="422.20" width="7.90" height="21.80" fill="#000"/>
<rect x="666.25" y="437.00" width="10.65" height="7.00" fill="#000"/>
<rect x="713.10" y="437.00" width="10.40" height="7.00" fill="#000"/>
<line x1="673.10" y1="437.00" x2="715.60" y2="437.00" stroke="#999" stroke-width="0.4"/>
<rect x="676.90" y="437.80" width="36.20" height="5.40" stroke="#999" stroke-width="0.4" fill="#fff" rx="0"/>
<rect x="678.10" y="439.34" width="33.80" height="2.67" stroke="#999" stroke-width="0.35" fill="#ececec" rx="0"/>
<rect x="568.10" y="242.00" width="3.80" height="94.90" fill="#000"/>
<rect x="649.75" y="242.00" width="3.35" height="94.90" fill="#000"/>
<rect x="476.80" y="333.10" width="71.30" height="3.80" fill="#000"/>
<rect x="543.75" y="336.50" width="4.00" height="3.25" fill="#000"/>
<rect x="567.25" y="333.10" width="48.75" height="3.80" fill="#000"/>
<rect x="634.40" y="333.10" width="18.70" height="3.80" fill="#000"/>
<rect x="643.10" y="336.50" width="3.80" height="3.25" fill="#000"/>
<rect x="643.10" y="358.10" width="3.80" height="64.40" fill="#000"/>
<rect x="638.20" y="375.50" width="8.70" height="47.00" fill="#000"/>
<rect x="543.60" y="358.10" width="3.60" height="64.40" fill="#000"/>
<rect x="571.00" y="360.60" width="3.60" height="61.90" fill="#000"/>
<rect x="571.00" y="360.60" width="5.00" height="3.15" fill="#000"/>
<rect x="592.25" y="360.60" width="23.75" height="3.60" fill="#000"/>
<rect x="609.90" y="360.60" width="3.70" height="21.80" fill="#000"/>
<rect x="574.50" y="378.25" width="39.10" height="4.15" fill="#000"/>
<rect x="634.40" y="360.60" width="30.00" height="3.40" fill="#000"/>
<rect x="682.50" y="360.60" width="54.25" height="3.40" fill="#000"/>
<rect x="716.00" y="364.00" width="3.60" height="64.80" fill="#000"/>
<rect x="755.10" y="360.60" width="3.15" height="3.40" fill="#000"/>
<path d="M548.30 333.75 L548.30 315.15 L550.50 315.15 L550.50 333.75 Z" stroke="#333" stroke-width="0.4" fill="#fff"/>
<path d="M548.30 315.15 A18.60 18.60 0 0 1 566.90 333.75" stroke="#333" stroke-width="0.4" fill="none"/>
<path d="M635.00 333.50 L635.00 315.10 L633.20 315.10 L633.20 333.50 Z" stroke="#333" stroke-width="0.4" fill="#fff"/>
<path d="M635.00 315.10 A18.40 18.40 0 0 0 616.60 333.50" stroke="#333" stroke-width="0.4" fill="none"/>
<path d="M543.75 358.10 L525.55 358.10 L525.55 356.60 L543.75 356.60 Z" stroke="#333" stroke-width="0.4" fill="#fff"/>
<path d="M525.55 358.10 A18.20 18.20 0 0 1 543.75 339.90" stroke="#333" stroke-width="0.4" fill="none"/>
<path d="M646.90 339.75 L665.40 339.75 L665.40 341.05 L646.90 341.05 Z" stroke="#333" stroke-width="0.4" fill="#fff"/>
<path d="M665.40 339.75 A18.50 18.50 0 0 1 646.90 358.25" stroke="#333" stroke-width="0.4" fill="none"/>
<path d="M634.60 364.00 L634.60 382.50 L633.20 382.50 L633.20 364.00 Z" stroke="#333" stroke-width="0.4" fill="#fff"/>
<path d="M634.60 382.50 A18.50 18.50 0 0 1 616.10 364.00" stroke="#333" stroke-width="0.4" fill="none"/>
<path d="M683.10 364.00 L683.10 382.50 L681.50 382.50 L681.50 364.00 Z" stroke="#333" stroke-width="0.4" fill="#fff"/>
<path d="M683.10 382.50 A18.50 18.50 0 0 1 664.60 364.00" stroke="#333" stroke-width="0.4" fill="none"/>
<path d="M756.00 360.60 L756.00 342.20 L754.50 342.20 L754.50 360.60 Z" stroke="#333" stroke-width="0.4" fill="#fff"/>
<path d="M756.00 342.20 A18.40 18.40 0 0 0 737.60 360.60" stroke="#333" stroke-width="0.4" fill="none"/>
<line x1="547.20" y1="360.60" x2="571.00" y2="360.60" stroke="#999" stroke-width="0.4"/>
<line x1="547.20" y1="366.25" x2="571.00" y2="366.25" stroke="#999" stroke-width="0.4"/>
<line x1="547.20" y1="372.10" x2="571.00" y2="372.10" stroke="#999" stroke-width="0.4"/>
<line x1="547.20" y1="378.10" x2="571.00" y2="378.10" stroke="#999" stroke-width="0.4"/>
<line x1="547.20" y1="378.30" x2="571.00" y2="384.50" stroke="#999" stroke-width="0.4"/>
<line x1="559.75" y1="361.00" x2="559.75" y2="376.50" stroke="#777" stroke-width="0.4"/>
<path d="M559.05 375.00 L559.75 377.40 L560.45 375.00 Z" stroke="#333" stroke-width="0.3" fill="#333"/>
<text x="559.00" y="358.60" font-size="8.5" text-anchor="middle" fill="#1a1a1a" stroke="#1a1a1a" stroke-width="0.22">Dn</text>
<path d="M575.80 361.30 L576.00 355.60 L591.90 361.25" stroke="#444" stroke-width="0.4" fill="none"/>
<rect x="476.80" y="391.00" width="18.70" height="1.80" fill="#000"/>
<rect x="494.00" y="391.00" width="1.50" height="5.90" fill="#000"/>
<path d="M495.00 396.90 L499.60 406.90 L495.00 416.90" stroke="#444" stroke-width="0.4" fill="none"/>
<line x1="496.50" y1="406.90" x2="499.60" y2="406.90" stroke="#444" stroke-width="0.35"/>
<line x1="494.60" y1="416.90" x2="494.60" y2="422.50" stroke="#666" stroke-width="0.4"/>
<line x1="476.8" y1="412.25" x2="494" y2="412.25" stroke="#aaa" stroke-width="0.5" stroke-dasharray="6.3 2.9"/>
<line x1="494" y1="412.25" x2="494" y2="417" stroke="#aaa" stroke-width="0.5" stroke-dasharray="6.3 2.9"/>
<line x1="543.6" y1="412.25" x2="538.75" y2="412.25" stroke="#aaa" stroke-width="0.5" stroke-dasharray="6.3 2.9"/>
<line x1="538.75" y1="412.25" x2="538.75" y2="422.2" stroke="#aaa" stroke-width="0.5" stroke-dasharray="6.3 2.9"/>
<line x1="574.6" y1="412.25" x2="584.25" y2="412.25" stroke="#aaa" stroke-width="0.5" stroke-dasharray="6.3 2.9"/>
<line x1="584.25" y1="412.25" x2="584.25" y2="418.2" stroke="#aaa" stroke-width="0.5" stroke-dasharray="6.3 2.9"/>
<line x1="633.6" y1="412.25" x2="628.6" y2="412.25" stroke="#aaa" stroke-width="0.5" stroke-dasharray="6.3 2.9"/>
<line x1="628.6" y1="412.25" x2="628.6" y2="418.2" stroke="#aaa" stroke-width="0.5" stroke-dasharray="6.3 2.9"/>
<line x1="646.9" y1="412.25" x2="673.75" y2="412.25" stroke="#aaa" stroke-width="0.5" stroke-dasharray="6.3 2.9"/>
<line x1="673.75" y1="412.25" x2="673.75" y2="419.2" stroke="#aaa" stroke-width="0.5" stroke-dasharray="6.3 2.9"/>
<line x1="719.6" y1="412.25" x2="758" y2="412.25" stroke="#aaa" stroke-width="0.5" stroke-dasharray="6.3 2.9"/>
<rect x="687.60" y="345.00" width="1.30" height="15.80" fill="#000"/>
<rect x="733.00" y="345.00" width="1.30" height="15.80" fill="#000"/>
<path d="M688.25 345.00 L705.10 339.00 L706.40 345.00" stroke="#444" stroke-width="0.4" fill="none"/>
<path d="M706.75 345.00 L719.25 341.00 L733.25 345.00" stroke="#444" stroke-width="0.4" fill="none"/>
<line x1="719.25" y1="341.00" x2="719.25" y2="343.75" stroke="#444" stroke-width="0.4"/>
<circle cx="688.25" cy="345" r="0.7" fill="#222"/>
<circle cx="706.6" cy="345" r="0.7" fill="#222"/>
<circle cx="733.6" cy="345" r="0.7" fill="#222"/>
<path d="M574.9 383.25 H594.9 V394 A8.6 8.6 0 0 1 586.3 402.6 H574.9 Z" fill="none" stroke="#888" stroke-width="0.4"/>
<path d="M576.2 384.5 H593.6 V394 A7.3 7.3 0 0 1 586.3 401.3 H576.2 Z" fill="none" stroke="#888" stroke-width="0.4"/>
<line x1="578.00" y1="386.40" x2="584.90" y2="393.25" stroke="#888" stroke-width="0.4"/>
<line x1="578.00" y1="386.40" x2="588.00" y2="386.40" stroke="#888" stroke-width="0.4"/>
<line x1="633.60" y1="382.60" x2="633.60" y2="422.00" stroke="#999" stroke-width="0.4"/>
<line x1="636.50" y1="382.60" x2="636.50" y2="422.00" stroke="#999" stroke-width="0.4"/>
<line x1="633.60" y1="382.60" x2="636.50" y2="382.60" stroke="#999" stroke-width="0.4"/>
<ellipse cx="630.8" cy="392" rx="5" ry="4.8" fill="#fff" stroke="#888" stroke-width="0.4"/>
<ellipse cx="630.4" cy="392" rx="3.6" ry="3.5" fill="none" stroke="#999" stroke-width="0.35"/>
<rect x="628.00" y="401.40" width="5.00" height="9.35" stroke="#888" stroke-width="0.4" fill="#fff" rx="0"/>
<ellipse cx="622.4" cy="406" rx="5.6" ry="5" fill="#fff" stroke="#888" stroke-width="0.4"/>
<rect x="583.60" y="418.25" width="45.30" height="18.15" stroke="#888" stroke-width="0.4" fill="#fff" rx="0"/>
<rect x="586.75" y="420.10" width="40.00" height="14.40" stroke="#888" stroke-width="0.4" fill="none" rx="7"/>
<rect x="589.90" y="422.00" width="33.10" height="11.25" stroke="#888" stroke-width="0.4" fill="none" rx="5.5"/>
<circle cx="622.5" cy="427.6" r="0.8" fill="none" stroke="#777" stroke-width="0.35"/>
<line x1="625.00" y1="425.80" x2="625.00" y2="429.60" stroke="#777" stroke-width="0.5"/>
<line x1="654.75" y1="364.00" x2="654.75" y2="412.00" stroke="#999" stroke-width="0.4"/>
<rect x="654.75" y="377.60" width="4.00" height="10.00" stroke="#888" stroke-width="0.4" fill="none" rx="0"/>
<ellipse cx="665" cy="382.6" rx="6.25" ry="5" fill="#fff" stroke="#888" stroke-width="0.4"/>
<rect x="649.75" y="392.60" width="10.00" height="15.00" stroke="#888" stroke-width="0.4" fill="#fff" rx="0"/>
<rect x="651.30" y="394.20" width="6.90" height="11.80" stroke="#888" stroke-width="0.4" fill="none" rx="1.5"/>
<line x1="647.00" y1="409.50" x2="654.75" y2="409.50" stroke="#999" stroke-width="0.4"/>
<rect x="695.00" y="364.00" width="20.60" height="38.60" stroke="#888" stroke-width="0.4" fill="none" rx="0"/>
<rect x="696.60" y="364.50" width="18.00" height="36.50" stroke="#888" stroke-width="0.4" fill="none" rx="0"/>
<line x1="705.10" y1="375.00" x2="712.60" y2="367.50" stroke="#888" stroke-width="0.4"/>
<line x1="702.00" y1="367.25" x2="712.60" y2="367.25" stroke="#888" stroke-width="0.4"/>
<line x1="712.60" y1="367.25" x2="712.60" y2="377.50" stroke="#888" stroke-width="0.4"/>
<rect x="673.10" y="419.25" width="42.50" height="17.50" stroke="#888" stroke-width="0.4" fill="#fff" rx="0"/>
<rect x="675.60" y="420.75" width="38.80" height="14.35" stroke="#888" stroke-width="0.4" fill="none" rx="7"/>
<rect x="678.10" y="422.60" width="31.90" height="10.65" stroke="#888" stroke-width="0.4" fill="none" rx="5.5"/>
<circle cx="709.6" cy="428" r="0.8" fill="none" stroke="#777" stroke-width="0.35"/>
<line x1="712.40" y1="426.00" x2="712.40" y2="430.00" stroke="#777" stroke-width="0.5"/>
<text x="522.50" y="280.50" font-size="8.5" text-anchor="middle" fill="#1a1a1a" stroke="#1a1a1a" stroke-width="0.22">Bedroom</text>
<text x="522.50" y="290.90" font-size="8.5" text-anchor="middle" fill="#1a1a1a" stroke="#1a1a1a" stroke-width="0.22">3.73 x 3.73</text>
<text x="522.50" y="301.10" font-size="8.5" text-anchor="middle" fill="#1a1a1a" stroke="#1a1a1a" stroke-width="0.22">12'3 x 12'3</text>
<text x="610.75" y="280.50" font-size="8.5" text-anchor="middle" fill="#1a1a1a" stroke="#1a1a1a" stroke-width="0.22">Bedroom</text>
<text x="610.75" y="290.90" font-size="8.5" text-anchor="middle" fill="#1a1a1a" stroke="#1a1a1a" stroke-width="0.22">3.73 x 3.16</text>
<text x="610.75" y="301.10" font-size="8.5" text-anchor="middle" fill="#1a1a1a" stroke="#1a1a1a" stroke-width="0.22">12'3 x 10'4</text>
<text x="705.50" y="294.30" font-size="8.5" text-anchor="middle" fill="#1a1a1a" stroke="#1a1a1a" stroke-width="0.22">Bedroom</text>
<text x="705.50" y="304.70" font-size="8.5" text-anchor="middle" fill="#1a1a1a" stroke="#1a1a1a" stroke-width="0.22">4.83 x 4.27</text>
<text x="705.50" y="314.80" font-size="8.5" text-anchor="middle" fill="#1a1a1a" stroke="#1a1a1a" stroke-width="0.22">15'10 x 14'0</text>
<text x="510.00" y="367.20" font-size="8.5" text-anchor="middle" fill="#1a1a1a" stroke="#1a1a1a" stroke-width="0.22">Bedroom</text>
<text x="510.20" y="378.00" font-size="8.5" text-anchor="middle" fill="#1a1a1a" stroke="#1a1a1a" stroke-width="0.22">4.07 x 2.70</text>
<text x="510.30" y="387.50" font-size="8.5" text-anchor="middle" fill="#1a1a1a" stroke="#1a1a1a" stroke-width="0.22">13'4 x 8'10</text>
<text x="738.50" y="393.30" font-size="8.5" text-anchor="middle" fill="#1a1a1a" stroke="#1a1a1a" stroke-width="0.22">Dressing</text>
<text x="738.50" y="402.80" font-size="8.5" text-anchor="middle" fill="#1a1a1a" stroke="#1a1a1a" stroke-width="0.22">Room</text>
<text x="468.80" y="512.60" font-size="13.75" text-anchor="start" fill="#111" stroke="#111" stroke-width="0.22">First Floor</text>
<line x1="510.50" y1="242.20" x2="510.50" y2="246.20" stroke="#222" stroke-width="0.45"/>
<line x1="510.50" y1="243.90" x2="510.50" y2="246.20" stroke="#222" stroke-width="1.15"/>
<line x1="510.50" y1="333.10" x2="510.50" y2="329.10" stroke="#222" stroke-width="0.45"/>
<line x1="510.50" y1="331.40" x2="510.50" y2="329.10" stroke="#222" stroke-width="1.15"/>
<line x1="476.80" y1="288.00" x2="480.80" y2="288.00" stroke="#222" stroke-width="0.45"/>
<line x1="478.50" y1="288.00" x2="480.80" y2="288.00" stroke="#222" stroke-width="1.15"/>
<line x1="568.10" y1="288.00" x2="564.10" y2="288.00" stroke="#222" stroke-width="0.45"/>
<line x1="566.40" y1="288.00" x2="564.10" y2="288.00" stroke="#222" stroke-width="1.15"/>
<line x1="610.00" y1="242.20" x2="610.00" y2="246.20" stroke="#222" stroke-width="0.45"/>
<line x1="610.00" y1="243.90" x2="610.00" y2="246.20" stroke="#222" stroke-width="1.15"/>
<line x1="610.00" y1="333.10" x2="610.00" y2="329.10" stroke="#222" stroke-width="0.45"/>
<line x1="610.00" y1="331.40" x2="610.00" y2="329.10" stroke="#222" stroke-width="1.15"/>
<line x1="571.90" y1="288.00" x2="575.90" y2="288.00" stroke="#222" stroke-width="0.45"/>
<line x1="573.60" y1="288.00" x2="575.90" y2="288.00" stroke="#222" stroke-width="1.15"/>
<line x1="649.75" y1="288.00" x2="645.75" y2="288.00" stroke="#222" stroke-width="0.45"/>
<line x1="648.05" y1="288.00" x2="645.75" y2="288.00" stroke="#222" stroke-width="1.15"/>
<line x1="685.00" y1="242.20" x2="685.00" y2="246.20" stroke="#222" stroke-width="0.45"/>
<line x1="685.00" y1="243.90" x2="685.00" y2="246.20" stroke="#222" stroke-width="1.15"/>
<line x1="653.10" y1="288.00" x2="657.10" y2="288.00" stroke="#222" stroke-width="0.45"/>
<line x1="654.80" y1="288.00" x2="657.10" y2="288.00" stroke="#222" stroke-width="1.15"/>
<line x1="758.00" y1="288.00" x2="754.00" y2="288.00" stroke="#222" stroke-width="0.45"/>
<line x1="756.30" y1="288.00" x2="754.00" y2="288.00" stroke="#222" stroke-width="1.15"/>
<line x1="510.50" y1="336.90" x2="510.50" y2="340.90" stroke="#222" stroke-width="0.45"/>
<line x1="510.50" y1="338.60" x2="510.50" y2="340.90" stroke="#222" stroke-width="1.15"/>
<line x1="476.80" y1="378.90" x2="480.80" y2="378.90" stroke="#222" stroke-width="0.45"/>
<line x1="478.50" y1="378.90" x2="480.80" y2="378.90" stroke="#222" stroke-width="1.15"/>
<line x1="543.60" y1="378.90" x2="539.60" y2="378.90" stroke="#222" stroke-width="0.45"/>
<line x1="541.90" y1="378.90" x2="539.60" y2="378.90" stroke="#222" stroke-width="1.15"/>
<line x1="510.50" y1="437.00" x2="510.50" y2="433.00" stroke="#222" stroke-width="0.45"/>
<line x1="510.50" y1="435.30" x2="510.50" y2="433.00" stroke="#222" stroke-width="1.15"/>
<line x1="685.50" y1="360.60" x2="685.50" y2="356.60" stroke="#222" stroke-width="0.45"/>
<line x1="685.50" y1="358.90" x2="685.50" y2="356.60" stroke="#222" stroke-width="1.15"/>
<text x="41.40" y="544.25" font-size="7.95" text-anchor="start" fill="#111" stroke="#111" stroke-width="0.22">This floor plan has been drawn in accordance with RICS Property Measurement 2nd edition.</text>
<text x="41.40" y="557.45" font-size="7.95" text-anchor="start" fill="#111" stroke="#111" stroke-width="0.22">All measurements, including the floor area, are approximate and for illustrative purposes only. @fourwalls-group.com #88027</text>
<g fill="none" stroke="#000" stroke-width="2.2" stroke-linejoin="miter" stroke-linecap="butt"><path d="M10.2 543.5 L23.3 536.6 L20.4 531.5 L5.1 539.85 L17.1 559.9 L11.7 563.2 L8.6 557.7 L11.7 556"/><path d="M13.85 548.6 L21.1 544.2 L24.4 549.3 L16.4 553.7"/><path d="M6.2 545.7 L2.9 547.5 L5.8 552.8 L8.75 551.4"/></g>
</svg>
</body></html>
